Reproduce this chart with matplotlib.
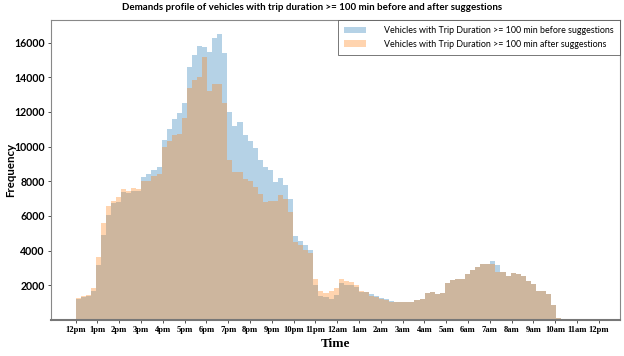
import numpy as np
import matplotlib
matplotlib.use("Agg")
import matplotlib.pyplot as plt

# ---- data (15-ish minute bins starting at 12pm, 96 bins over ~22.27 h) ----
span_hours = 22.27
n_bins = 96

before = [1191, 1345, 1364, 1691, 3170, 4900, 6052, 6725, 6782, 7359,
          7300, 7455, 7455, 8262, 8415, 8646, 8838, 10375, 11009, 11566,
          11951, 12527, 14564, 15275, 15793, 15716, 15466, 16235, 16485, 15370,
          12008, 11182, 11432, 10663, 10318, 9895, 9222, 8838, 8646, 7973,
          8165, 7781, 6955, 4842, 4573, 4323, 4035, 2017, 1383, 1345,
          1210, 1441, 2113, 2017, 2017, 1883, 1633, 1595, 1479, 1383,
          1287, 1210, 1095, 1037, 1057, 1057, 1057, 1152, 1191, 1537,
          1633, 1499, 1575, 2152, 2306, 2363, 2363, 2651, 2882, 3074,
          3228, 3228, 3401, 3170, 2786, 2555, 2690, 2651, 2555, 2267,
          2056, 1671, 1671, 1499, 865, 135]

after = [1287, 1403, 1441, 1825, 3650, 5572, 6571, 6860, 7070, 7551,
         7455, 7589, 7551, 8031, 8031, 8319, 8415, 9991, 10318, 10663,
         10702, 11624, 13353, 13850, 14040, 15160, 13180, 13603, 13603, 12489,
         9222, 8550, 8550, 8108, 7990, 7685, 7263, 6820, 6878, 6860,
         7205, 6955, 6245, 4515, 4323, 4035, 3842, 2344, 1690, 1575,
         1690, 1825, 2344, 2248, 2210, 2017, 1690, 1633, 1383, 1306,
         1191, 1152, 1057, 1037, 1057, 1057, 1057, 1152, 1191, 1537,
         1633, 1499, 1575, 2152, 2306, 2363, 2363, 2651, 2882, 3074,
         3228, 3228, 3228, 2786, 2786, 2555, 2690, 2651, 2555, 2267,
         2056, 1671, 1671, 1499, 865, 135]

tick_labels = ["12pm", "1pm", "2pm", "3pm", "4pm", "5pm", "6pm", "7pm", "8pm",
               "9pm", "10pm", "11pm", "12am", "1am", "2am", "3am", "4am", "5am",
               "6am", "7am", "8am", "9am", "10am", "11am", "12pm"]

label_before = "Vehicles with Trip Duration >= 100 min before suggestions"
label_after = "Vehicles with Trip Duration >= 100 min after suggestions"
title = "Demands profile of vehicles with trip duration >= 100 min before and after suggestions"

# ---- plot ----
edges = np.linspace(0, span_hours, n_bins + 1)
centers = (edges[:-1] + edges[1:]) / 2

fig = plt.figure(figsize=(6.24, 3.56), dpi=100)
ax = fig.add_axes([51 / 624, 1 - 320 / 356, (620 - 51) / 624, 300 / 356])

ax.hist(centers, bins=edges, weights=before, color="#1f77b4", alpha=0.33,
        label=label_before)
ax.hist(centers, bins=edges, weights=after, color="#ff7f0e", alpha=0.33,
        label=label_after)

ax.set_xlim(-1.13, 24.97)
ax.set_ylim(0, 17300)

ax.set_xticks(np.arange(len(tick_labels)))
ax.set_xticklabels(tick_labels, fontfamily="Liberation Serif", fontweight="bold",
                   fontsize=6.2)
ax.set_yticks([2000, 4000, 6000, 8000, 10000, 12000, 14000, 16000])
ax.set_yticklabels(["2000", "4000", "6000", "8000", "10000", "12000", "14000", "16000"],
                   fontfamily="Lato", fontweight="bold", fontsize=7.6)
ax.tick_params(axis="both", length=2.5, width=0.6, pad=2, colors="#333333")
for lab in ax.get_xticklabels() + ax.get_yticklabels():
    lab.set_color("black")

for side in ["left", "right", "top"]:
    ax.spines[side].set_color("#888888")
    ax.spines[side].set_linewidth(0.8)
ax.spines["bottom"].set_color("#777777")
ax.spines["bottom"].set_linewidth(1.5)

ax.set_xlabel("Time", fontfamily="Liberation Serif", fontweight="bold", fontsize=9.5,
              labelpad=3)
ax.set_ylabel("Frequency", fontfamily="Lato", fontweight="bold", fontsize=8.3)
ax.yaxis.set_label_coords(-35 / 569, 0.5)
fig.text(0.5, 1 - 8 / 356, title, fontfamily="Lato", fontweight="bold", fontsize=7,
         ha="center", va="center")

leg = ax.legend(loc="upper right", prop={"family": "Lato", "size": 6.4},
                frameon=True, fancybox=False, edgecolor="#555555",
                borderaxespad=0.0, handlelength=2.5, handletextpad=2.0,
                borderpad=0.7, labelspacing=0.5)
leg.get_frame().set_linewidth(0.7)

fig.savefig("out.png", dpi=100)
